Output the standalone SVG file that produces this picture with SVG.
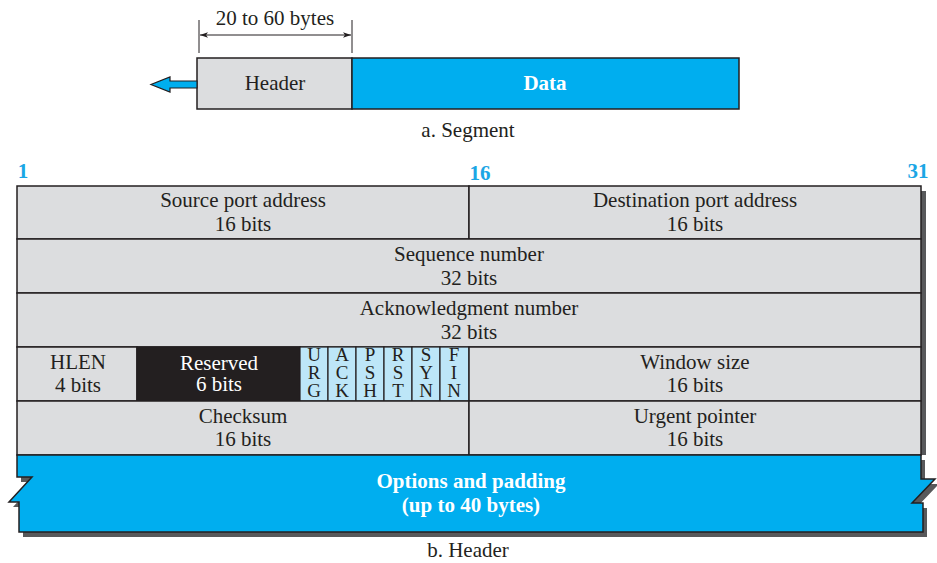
<svg xmlns="http://www.w3.org/2000/svg" width="937" height="563" viewBox="0 0 937 563">
<defs>
<style>
text{font-family:"Liberation Serif","Times New Roman",serif;font-size:21px;fill:#231F20;text-anchor:middle}
.w{fill:#fff;font-weight:bold}
.num{fill:#1BA6E5;font-weight:bold}
.g{fill:#DCDDDF;stroke:#231F20;stroke-width:1.5}
.bl{fill:#00AEEF;stroke:#231F20;stroke-width:1.5}
.fl{fill:#BDE6F8;stroke:#231F20;stroke-width:1.2}
.f{font-size:19px}
.ln{stroke:#231F20;stroke-width:1;fill:none}
.sh{fill:#58595B}
.wt{fill:#fff}
</style>
<marker id="ah" viewBox="0 0 10 10" refX="10" refY="5" markerWidth="8" markerHeight="8" orient="auto-start-reverse" markerUnits="userSpaceOnUse"><path d="M0,1.5 L10,5 L0,8.5 L2.5,5 z" fill="#231F20"/></marker>
</defs>

<g id="segment">
<g id="seg-header"><rect class="g" x="197" y="58" width="155" height="51"/><text x="275" y="90">Header</text></g>
<g id="seg-data"><rect class="bl" x="352" y="58" width="387" height="51"/><text class="w" x="545" y="90">Data</text></g>
<text x="468" y="137">a. Segment</text>
</g>

<g id="connectors">
<line class="ln" x1="199" y1="20" x2="199" y2="53"/>
<line class="ln" x1="352" y1="20" x2="352" y2="53"/>
<line class="ln" x1="200" y1="35" x2="351" y2="35" marker-start="url(#ah)" marker-end="url(#ah)"/>
<path d="M197,81 L170,81 L170,77 L151,84.5 L170,92 L170,88 L197,88 z" fill="#00AEEF" stroke="#231F20" stroke-width="1.2"/>
</g>
<text x="275" y="25">20 to 60 bytes</text>

<text class="num" x="23" y="178">1</text>
<text class="num" x="480" y="180">16</text>
<text class="num" x="918" y="178">31</text>

<rect class="sh" x="921" y="191" width="5" height="264"/>
<polygon class="sh" points="21,460 925,460 925,484 939,484 916,508 927,508 927,537 23,537 23,507 13,507 36,482 21,482"/>

<g id="src-port"><rect class="g" x="17" y="186" width="452" height="53"/><text x="243" y="207">Source port address</text><text x="243" y="231">16 bits</text></g>
<g id="dst-port"><rect class="g" x="469" y="186" width="452" height="53"/><text x="695" y="207">Destination port address</text><text x="695" y="231">16 bits</text></g>
<g id="seq"><rect class="g" x="17" y="239" width="904" height="54"/><text x="469" y="261">Sequence number</text><text x="469" y="285">32 bits</text></g>
<g id="ack"><rect class="g" x="17" y="293" width="904" height="54"/><text x="469" y="315">Acknowledgment number</text><text x="469" y="339">32 bits</text></g>
<g id="hlen"><rect class="g" x="17" y="347" width="120" height="54"/><text x="78" y="369">HLEN</text><text x="78" y="392">4 bits</text></g>
<g id="reserved"><rect x="137" y="347" width="163" height="54" fill="#231F20" stroke="#231F20" stroke-width="1.5"/><text class="wt" x="219" y="370">Reserved</text><text class="wt" x="219" y="391">6 bits</text></g>
<g id="flags">
<rect class="fl" x="300" y="347" width="28" height="54"/>
<rect class="fl" x="328" y="347" width="28" height="54"/>
<rect class="fl" x="356" y="347" width="28" height="54"/>
<rect class="fl" x="384" y="347" width="28" height="54"/>
<rect class="fl" x="412" y="347" width="28" height="54"/>
<rect class="fl" x="440" y="347" width="29" height="54"/>
<text class="f" y="361"><tspan x="314">U</tspan><tspan x="314" dy="18">R</tspan><tspan x="314" dy="18">G</tspan></text>
<text class="f" y="361"><tspan x="342">A</tspan><tspan x="342" dy="18">C</tspan><tspan x="342" dy="18">K</tspan></text>
<text class="f" y="361"><tspan x="370">P</tspan><tspan x="370" dy="18">S</tspan><tspan x="370" dy="18">H</tspan></text>
<text class="f" y="361"><tspan x="398">R</tspan><tspan x="398" dy="18">S</tspan><tspan x="398" dy="18">T</tspan></text>
<text class="f" y="361"><tspan x="426">S</tspan><tspan x="426" dy="18">Y</tspan><tspan x="426" dy="18">N</tspan></text>
<text class="f" y="361"><tspan x="454">F</tspan><tspan x="454" dy="18">I</tspan><tspan x="454" dy="18">N</tspan></text>
</g>
<g id="window"><rect class="g" x="469" y="347" width="452" height="54"/><text x="695" y="369">Window size</text><text x="695" y="392">16 bits</text></g>
<g id="checksum"><rect class="g" x="17" y="401" width="452" height="54"/><text x="243" y="423">Checksum</text><text x="243" y="446">16 bits</text></g>
<g id="urgent"><rect class="g" x="469" y="401" width="452" height="54"/><text x="695" y="423">Urgent pointer</text><text x="695" y="446">16 bits</text></g>
<g id="options">
<polygon class="bl" points="17,455 921,455 921,479 935,479 912,503 923,503 923,532 19,532 19,502 9,502 32,477 17,477"/>
<text class="w" x="471" y="488">Options and padding</text>
<text class="w" x="471" y="512">(up to 40 bytes)</text>
</g>
<text x="468" y="557">b. Header</text>
</svg>
